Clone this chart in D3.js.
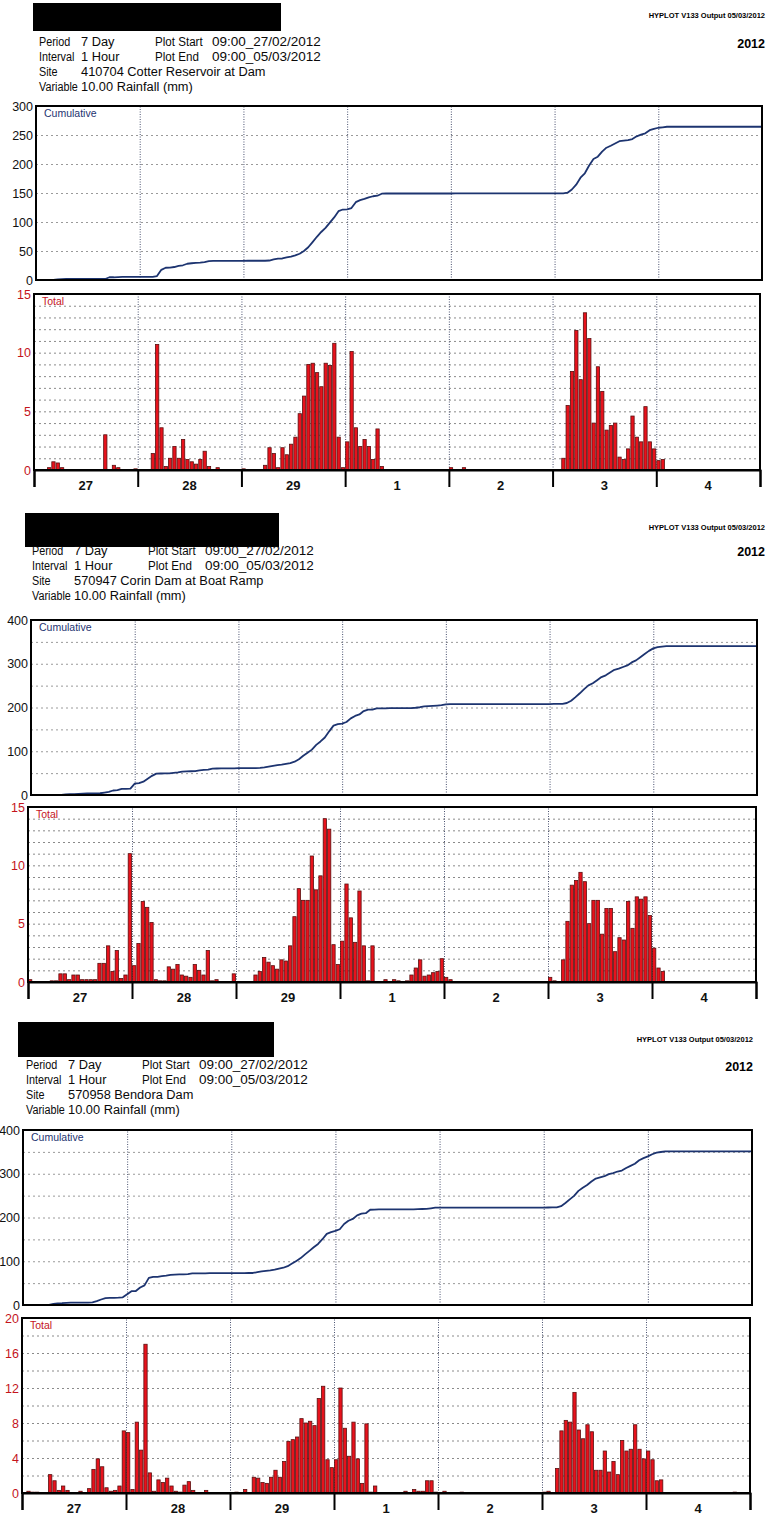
<!DOCTYPE html>
<html>
<head>
<meta charset="utf-8">
<script src="https://cdnjs.cloudflare.com/ajax/libs/d3/7.8.5/d3.min.js"></script>
<style>
  body { margin: 0; background: #fff; }
  svg text { font-family: "Liberation Sans", Arial, sans-serif; }
</style>
</head>
<body>
<div id="viz"></div>
<script>
// ---- data ----

var dayLabels = ['27', '28', '29', '1', '2', '3', '4'];
var outputNote = 'HYPLOT V133 Output 05/03/2012';
var yearText = '2012';
var headerLabels = ['Period', 'Interval', 'Site', 'Variable'];
var periodText = '7 Day';
var intervalText = '1 Hour';
var plotStart = '09:00_27/02/2012';
var plotEnd = '09:00_05/03/2012';
var variableText = '10.00 Rainfall (mm)';
var siteNames = ['410704 Cotter Reservoir at Dam', '570947 Corin Dam at Boat Ramp', '570958 Bendora Dam'];

// hourly rainfall totals (mm) from 09:00 27/02/2012, one row of 24 per day
var cotterTotal = [].concat(
  [0,0,0,0.2,0.7,0.6,0.2,0,0,0,0,0,0,0,0,0,3.0,0,0.4,0.2,0,0,0,0.1],
  [0,0,0,1.4,10.7,3.6,0.3,1.0,2.0,1.0,2.6,0.9,0.7,0.5,0.9,1.6,0.3,0,0.2,0,0,0,0,0],
  [0.1,0,0,0,0,0.4,1.9,1.4,0.2,1.9,1.3,2.2,2.8,4.8,6.3,9.0,9.1,8.3,7.1,9.1,8.9,10.8,2.8,0.2],
  [2.4,10.1,3.6,2.0,2.6,2.0,0.9,3.5,0.3,0,0,0,0,0,0,0,0,0,0,0,0,0,0,0],
  [0.2,0,0,0.2,0,0,0,0,0,0,0,0,0,0,0,0,0,0,0,0,0,0,0,0],
  [0,0,1.0,5.5,8.4,11.9,7.7,13.4,11.2,4.0,8.8,6.7,3.4,3.8,4.0,1.1,0.9,1.8,4.6,2.8,2.4,5.4,2.4,1.8],
  [0.8,0.9,0,0,0,0,0,0,0,0,0,0,0,0,0,0,0,0,0,0,0,0,0,0]
);

var corinTotal = [].concat(
  [0.2,0,0,0,0,0.1,0.1,0.7,0.7,0.2,0.6,0.6,0.2,0.2,0.2,0.2,1.6,1.6,3.1,0.9,2.7,0.3,0.6,11.0],
  [1.4,3.3,6.9,6.4,5.1,0.2,0.1,0.1,1.3,1.1,1.5,0.6,0.5,0.4,1.5,1.0,0.6,2.7,0.1,0.2,0,0,0,0.7],
  [0,0,0,0,0.6,0.9,2.1,1.7,1.4,1.1,1.9,1.8,3.1,5.6,8.0,7.0,7.0,10.8,7.9,9.1,14.0,13.1,3.2,1.5],
  [3.5,8.4,5.5,3.4,7.8,3.1,0.1,3.1,0,0,0.2,0,0.2,0.1,0,0.1,0.6,1.2,1.9,0.5,0.6,0.8,0.9,2.0],
  [0.4,0.2,0,0,0,0,0,0,0,0,0,0,0,0,0,0,0,0,0,0,0,0,0,0],
  [0.4,0.1,0,1.9,5.2,8.3,8.7,9.4,8.6,5.0,7.0,7.0,4.1,6.3,6.3,2.6,3.8,3.6,6.9,4.6,7.3,7.1,7.3,5.7],
  [2.9,1.2,0.9,0,0,0,0,0,0,0,0,0,0,0,0,0,0,0,0,0,0,0,0,0]
);

var bendoraTotal = [].concat(
  [0,0.2,0.1,0.1,0,0,2.1,1.4,0.3,0.8,0.3,0,0,0.2,0,0.5,2.7,3.9,3.0,0.6,0.2,0.3,0.8,7.1],
  [6.9,0.4,8.1,4.9,17.0,2.3,0.2,1.5,1.2,1.7,0.8,0.2,0.1,0.9,1.3,0.3,0,0,0.3,0,0,0,0,0],
  [0,0.1,0,0.4,0,1.8,1.7,1.2,1.1,1.8,2.6,1.8,3.6,5.9,6.1,6.4,8.5,8.0,8.2,7.7,10.8,12.2,3.8,2.9],
  [3.8,12.0,7.4,4.2,8.1,3.9,1.1,7.9,0.1,0.8,0,0,0,0,0,0,0.2,0,0.4,0.2,0.2,1.4,1.4,0.1],
  [0,0.2,0,0,0,0.1,0,0,0,0,0,0,0,0,0,0,0,0,0,0,0,0,0,0],
  [0.1,0.2,0,2.8,7.1,8.3,8.1,11.5,7.2,6.2,7.8,7.0,2.6,2.6,4.8,2.4,3.6,2.1,6.0,4.8,5.0,7.8,5.0,3.9],
  [4.8,3.8,1.4,1.5,0,0,0,0,0,0,0,0,0,0,0,0,0,0,0,0,0.1,0,0,0]
);

// axis tick values
var cotterCumTicks = [0, 50, 100, 150, 200, 250, 300];
var damCumTicks = [0, 100, 200, 300, 400];
var total15Ticks = [0, 5, 10, 15];
var total20Ticks = [0, 4, 8, 12, 16, 20];

// ---- layout ----

var W = 769, H = 1517;
var HOURS = 168;

var panels = [
  { site: siteNames[0], total: cotterTotal,
    cumMax: 300, cumTicks: cotterCumTicks, cumGrid: 50,
    totMax: 15, totTicks: total15Ticks, totGrid: 1,
    redact: [33, 3, 248, 28], hx: 39, hy: 46, noteX: 765, noteY: 18, yearY: 48,
    cum: {l: 36, r: 762, t: 106, b: 280},
    tot: {l: 34, r: 760, t: 294, b: 470} },
  { site: siteNames[1], total: corinTotal,
    cumMax: 400, cumTicks: damCumTicks, cumGrid: 50,
    totMax: 15, totTicks: total15Ticks, totGrid: 1,
    redact: [25, 513, 254, 34], hx: 32, hy: 555, noteX: 765, noteY: 530, yearY: 556,
    cum: {l: 31, r: 757, t: 620, b: 795},
    tot: {l: 28, r: 756, t: 807, b: 982} },
  { site: siteNames[2], total: bendoraTotal,
    cumMax: 400, cumTicks: damCumTicks, cumGrid: 50,
    totMax: 20, totTicks: total20Ticks, totGrid: 2,
    redact: [18, 1022, 256, 35], hx: 26, hy: 1069, noteX: 753, noteY: 1042, yearY: 1071,
    cum: {l: 23, r: 752, t: 1130, b: 1305},
    tot: {l: 22, r: 750, t: 1318, b: 1493} }
];

var svg = d3.select('#viz').append('svg')
  .attr('width', W)
  .attr('height', H);

svg.append('rect').attr('width', W).attr('height', H).attr('fill', '#fff');

panels.forEach(drawPanel);

function drawPanel(p) {
  var g = svg.append('g');

  // blacked-out title
  g.append('rect')
    .attr('x', p.redact[0]).attr('y', p.redact[1])
    .attr('width', p.redact[2]).attr('height', p.redact[3])
    .attr('fill', '#000');

  g.append('text')
    .attr('x', p.noteX).attr('y', p.noteY)
    .attr('text-anchor', 'end')
    .style('font-size', '7.5px').style('font-weight', 'bold')
    .text(outputNote);

  g.append('text')
    .attr('x', p.noteX).attr('y', p.yearY)
    .attr('text-anchor', 'end')
    .style('font-size', '12.5px').style('font-weight', 'bold')
    .text(yearText);

  // header block; the print is narrow, so squeeze each column a little
  var rows = [
    [headerLabels[0], periodText, 'Plot Start', plotStart],
    [headerLabels[1], intervalText, 'Plot End', plotEnd],
    [headerLabels[2], p.site],
    [headerLabels[3], variableText]
  ];
  var colX = [0, 42, 116, 173];
  var colScale = [0.8, 0.95, 0.86, 1];
  rows.forEach(function (r, i) {
    r.forEach(function (txt, j) {
      g.append('text')
        .attr('transform', 'translate(' + (p.hx + colX[j]) + ',' + (p.hy + i * 15) + ') scale(' + colScale[j] + ',1)')
        .style('font-size', '13.5px')
        .attr('fill', '#0a0a0a')
        .text(txt);
    });
  });

  // ---- cumulative chart ----
  var c = p.cum;
  var xc = d3.scaleLinear().domain([0, HOURS]).range([c.l, c.r]);
  var yc = d3.scaleLinear().domain([0, p.cumMax]).range([c.b, c.t]);

  var gridC = g.append('g')
    .attr('transform', 'translate(' + c.l + ',0)')
    .call(d3.axisLeft(yc)
      .tickValues(d3.range(p.cumGrid, p.cumMax, p.cumGrid))
      .tickSize(-(c.r - c.l)).tickFormat(''));
  gridC.select('.domain').remove();
  gridC.selectAll('line').attr('stroke', '#9a9a9a').attr('stroke-dasharray', '2,3');

  var dayC = g.append('g')
    .attr('transform', 'translate(0,' + c.b + ')')
    .call(d3.axisBottom(xc)
      .tickValues(d3.range(24, HOURS, 24))
      .tickSize(-(c.b - c.t)).tickFormat(''));
  dayC.select('.domain').remove();
  dayC.selectAll('line').attr('stroke', '#4a5270').attr('stroke-dasharray', '1,1.5');

  var cum = d3.cumsum(p.total);
  var pts = [[0, 0]].concat(Array.from(cum, function (v, i) { return [i + 1, v]; }));
  g.append('path')
    .datum(pts)
    .attr('fill', 'none')
    .attr('stroke', '#1d3470')
    .attr('stroke-width', 1.8)
    .attr('stroke-linejoin', 'round')
    .attr('d', d3.line()
      .x(function (d) { return xc(d[0]); })
      .y(function (d) { return yc(d[1]); }));

  g.append('rect')
    .attr('x', c.l).attr('y', c.t)
    .attr('width', c.r - c.l).attr('height', c.b - c.t)
    .attr('fill', 'none').attr('stroke', '#000').attr('stroke-width', 2);

  g.append('text')
    .attr('x', c.l + 8).attr('y', c.t + 11)
    .style('font-size', '10.5px')
    .attr('fill', '#1d3470')
    .text('Cumulative');

  var axC = g.append('g')
    .attr('transform', 'translate(' + (c.l - 1) + ',0)')
    .call(d3.axisLeft(yc).tickValues(p.cumTicks).tickSize(0).tickPadding(2));
  axC.select('.domain').remove();
  axC.selectAll('text')
    .style('font-size', '12.5px')
    .style('font-family', '"Liberation Sans", Arial, sans-serif')
    .attr('fill', '#111');

  // ---- total chart ----
  var t = p.tot;
  var xt = d3.scaleLinear().domain([0, HOURS]).range([t.l, t.r]);
  var yt = d3.scaleLinear().domain([0, p.totMax]).range([t.b, t.t]);
  var hw = xt(1) - xt(0);

  var gridT = g.append('g')
    .attr('transform', 'translate(' + t.l + ',0)')
    .call(d3.axisLeft(yt)
      .tickValues(d3.range(p.totGrid, p.totMax, p.totGrid))
      .tickSize(-(t.r - t.l)).tickFormat(''));
  gridT.select('.domain').remove();
  gridT.selectAll('line').attr('stroke', '#8a8a8a').attr('stroke-dasharray', '2,3');

  var dayT = g.append('g')
    .attr('transform', 'translate(0,' + t.b + ')')
    .call(d3.axisBottom(xt)
      .tickValues(d3.range(24, HOURS, 24))
      .tickSize(-(t.b - t.t)).tickFormat(''));
  dayT.select('.domain').remove();
  dayT.selectAll('line').attr('stroke', '#4a5270').attr('stroke-dasharray', '1,1.5');

  // keep the hour index with each value, then skip the dry hours
  var hourly = p.total
    .map(function (v, h) { return {h: h, v: v}; })
    .filter(function (d) { return d.v > 0; });

  g.append('g').selectAll('rect')
    .data(hourly)
    .enter()
    .append('rect')
    .attr('x', function (d) { return xt(d.h) + hw * 0.12; })
    .attr('y', function (d) { return yt(d.v); })
    .attr('width', hw * 0.76)
    .attr('height', function (d) { return yt(0) - yt(d.v); })
    .attr('fill', '#e8121c')
    .attr('stroke', '#5a1010')
    .attr('stroke-width', 0.8);

  g.append('rect')
    .attr('x', t.l).attr('y', t.t)
    .attr('width', t.r - t.l).attr('height', t.b - t.t)
    .attr('fill', 'none').attr('stroke', '#000').attr('stroke-width', 2);

  g.append('text')
    .attr('x', t.l + 8).attr('y', t.t + 11)
    .style('font-size', '10.5px')
    .attr('fill', '#c4141c')
    .text('Total');

  var axT = g.append('g')
    .attr('transform', 'translate(' + (t.l - 1) + ',0)')
    .call(d3.axisLeft(yt).tickValues(p.totTicks).tickSize(0).tickPadding(2));
  axT.select('.domain').remove();
  axT.selectAll('text')
    .style('font-size', '12.5px')
    .style('font-family', '"Liberation Sans", Arial, sans-serif')
    .attr('fill', '#c4141c');

  // day ticks below the chart
  var axB = g.append('g')
    .attr('transform', 'translate(0,' + t.b + ')')
    .call(d3.axisBottom(xt).tickValues(d3.range(0, HOURS + 1, 24)).tickSize(17).tickFormat(''));
  axB.select('.domain').attr('stroke-width', 2);
  axB.selectAll('line').attr('stroke', '#000').attr('stroke-width', 2);

  g.append('g').selectAll('text')
    .data(dayLabels)
    .enter()
    .append('text')
    .attr('x', function (d, i) { return xt(i * 24 + 12); })
    .attr('y', t.b + 20)
    .attr('text-anchor', 'middle')
    .style('font-size', '13px')
    .style('font-weight', 'bold')
    .attr('fill', '#111')
    .text(function (d) { return d; });
}
</script>
</body>
</html>
